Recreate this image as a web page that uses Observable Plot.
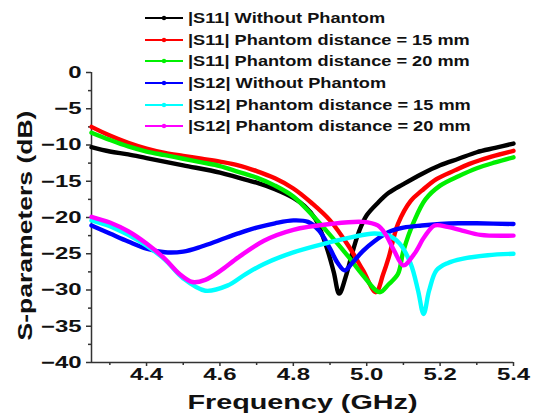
<!DOCTYPE html>
<html><head><meta charset="utf-8">
<script src="https://cdn.jsdelivr.net/npm/d3@7"></script>
<script src="https://cdn.jsdelivr.net/npm/@observablehq/plot@0.6"></script>
<style>
body{margin:0;background:#fff;}
#wrap{position:relative;width:533px;height:414px;font-family:"Liberation Sans",Arial,sans-serif;}
#legend{position:absolute;left:0;top:0;width:533px;height:140px;pointer-events:none;}
.row{position:absolute;left:145px;height:20px;display:flex;align-items:center;white-space:nowrap;}
.row svg{display:block;}
.row span{display:inline-block;font-weight:bold;font-size:14px;color:#111;transform:scaleX(1.3);transform-origin:left center;margin-left:5px;}
</style></head>
<body><div id="wrap"><div id="legend"></div></div>
<script>
// Series names, colours (legend order)
const seriesNames = ["|S11| Without Phantom","|S11| Phantom distance = 15 mm","|S11| Phantom distance = 20 mm","|S12| Without Phantom","|S12| Phantom distance = 15 mm","|S12| Phantom distance = 20 mm"];
const seriesColors = ["#000000","#ff0000","#00f000","#0000ff","#00ffff","#ff00ff"];

// |S11| Without Phantom
const fS11None = [4.25,4.30,4.35,4.40,4.50,4.60,4.65,4.70,4.75,4.80,4.83,4.86,4.89,4.91,4.925,4.945,4.96,4.98,5.00,5.03,5.06,5.10,5.15,5.20,5.25,5.30,5.35,5.40];
const dbS11None = [-10.3,-10.9,-11.3,-11.8,-12.8,-13.8,-14.5,-15.2,-16.1,-17.3,-18.4,-20.2,-24.0,-27.5,-30.5,-27.8,-25.0,-21.8,-19.7,-18.0,-16.6,-15.4,-14.0,-12.8,-11.9,-11.0,-10.4,-9.8];
// |S11| Phantom distance = 15 mm
const fS11d15 = [4.25,4.30,4.35,4.40,4.45,4.50,4.55,4.60,4.65,4.70,4.75,4.80,4.85,4.90,4.95,4.99,5.025,5.045,5.06,5.085,5.12,5.15,5.19,5.24,5.28,5.34,5.40];
const dbS11d15 = [-7.5,-8.7,-9.7,-10.5,-11.1,-11.5,-11.9,-12.3,-12.8,-13.6,-14.6,-16.0,-18.0,-20.4,-23.9,-27.3,-30.3,-27.8,-25.5,-20.9,-17.7,-16.3,-14.7,-13.5,-12.6,-11.6,-10.8];
// |S11| Phantom distance = 20 mm
const fS11d20 = [4.25,4.30,4.35,4.40,4.45,4.50,4.55,4.60,4.65,4.70,4.75,4.80,4.85,4.90,4.95,4.99,5.035,5.06,5.085,5.10,5.13,5.16,5.20,5.25,5.30,5.35,5.40];
const dbS11d20 = [-8.3,-9.3,-10.2,-10.9,-11.4,-11.9,-12.4,-12.9,-13.7,-14.5,-15.6,-17.1,-19.6,-22.4,-25.4,-28.0,-30.3,-29.2,-27.8,-24.6,-20.4,-17.5,-15.6,-14.3,-13.2,-12.4,-11.7];
// |S12| Without Phantom
const fS12None = [4.25,4.30,4.35,4.40,4.45,4.50,4.55,4.60,4.65,4.70,4.75,4.80,4.84,4.87,4.90,4.92,4.94,4.96,4.99,5.02,5.06,5.10,5.15,5.20,5.25,5.30,5.40];
const dbS12None = [-21.1,-22.2,-23.3,-24.3,-24.8,-24.7,-24.0,-23.1,-22.2,-21.4,-20.8,-20.4,-20.6,-21.8,-24.3,-26.2,-27.3,-26.3,-24.6,-23.3,-22.0,-21.4,-21.1,-20.9,-20.8,-20.8,-20.9];
// |S12| Phantom distance = 15 mm
const fS12d15 = [4.25,4.30,4.35,4.40,4.45,4.50,4.56,4.62,4.67,4.72,4.80,4.90,4.96,5.02,5.06,5.09,5.12,5.14,5.155,5.17,5.19,5.22,5.26,5.33,5.40];
const dbS12d15 = [-20.4,-21.2,-22.4,-23.9,-25.8,-28.4,-30.1,-29.4,-27.8,-26.4,-24.8,-23.4,-22.7,-22.2,-22.5,-23.6,-26.4,-30.1,-33.3,-30.1,-27.3,-26.3,-25.7,-25.2,-25.0];
// |S12| Phantom distance = 20 mm
const fS12d20 = [4.25,4.30,4.35,4.40,4.45,4.49,4.525,4.56,4.60,4.65,4.72,4.80,4.90,4.99,5.03,5.05,5.075,5.10,5.13,5.157,5.185,5.22,5.26,5.31,5.40];
const dbS12d20 = [-19.9,-20.7,-21.9,-23.6,-25.7,-27.8,-28.9,-28.6,-27.4,-25.5,-23.2,-21.7,-20.9,-20.6,-21.1,-22.2,-24.6,-26.6,-25.0,-22.7,-21.1,-21.3,-21.8,-22.4,-22.5];

// Axis ticks
const xTicks = [4.4,4.6,4.8,5.0,5.2,5.4];
const xMinorTicks = [4.3,4.5,4.7,4.9,5.1,5.3];
const yTicks = [0,-5,-10,-15,-20,-25,-30,-35,-40];
const yMinorTicks = [-2.5,-7.5,-12.5,-17.5,-22.5,-27.5,-32.5,-37.5];
const xTitle = "Frequency (GHz)";
const yTitle = "S-parameters (dB)";

const freqs = [fS11None,fS11d15,fS11d20,fS12None,fS12d15,fS12d20];
const dbs = [dbS11None,dbS11d15,dbS11d20,dbS12None,dbS12d15,dbS12d20];
const rows = [];
seriesNames.forEach((name,k)=>freqs[k].forEach((f,i)=>rows.push({series:name,freq:f,db:dbs[k][i]})));

const fmtY = d => d < 0 ? "\u2212" + Math.abs(d) : String(d);

const chart = Plot.plot({
  width:533, height:414,
  marginLeft:91, marginRight:20, marginTop:72, marginBottom:52,
  x:{domain:[4.25,5.4]},
  y:{domain:[-40,0]},
  color:{domain:seriesNames, range:seriesColors},
  style:{fontFamily:'"Liberation Sans",Arial,sans-serif', color:"#333", background:"#fff", overflow:"visible"},
  marks:[
    Plot.axisX(xTicks,{tickSize:4,tickPadding:2,tickFormat:d=>d.toFixed(1),label:null,fontWeight:"bold",fontSize:16.5,fill:"#111",strokeWidth:1.5}),
    Plot.axisX(xMinorTicks,{tickSize:3,tickFormat:()=>"",label:null,strokeWidth:1.5}),
    Plot.axisY(yTicks,{tickSize:5,tickPadding:5,tickFormat:fmtY,label:null,fontWeight:"bold",fontSize:16.5,fill:"#111",strokeWidth:1.5}),
    Plot.axisY(yMinorTicks,{tickSize:3,tickFormat:()=>"",label:null,strokeWidth:1.5}),
    Plot.ruleX([4.25],{stroke:"#333",strokeWidth:1.5}),
    Plot.ruleY([-40],{stroke:"#333",strokeWidth:1.5}),
    Plot.line(rows,{x:"freq",y:"db",z:"series",stroke:"series",strokeWidth:4.4,curve:"catmull-rom"}),
    Plot.text([yTitle],{text:d=>d,frameAnchor:"left",textAnchor:"middle",lineAnchor:"middle",rotate:-90,dx:-66,dy:8,fontSize:20,fontWeight:"bold",fill:"#111"}),
    Plot.text([xTitle],{text:d=>d,frameAnchor:"bottom",textAnchor:"middle",dy:46,fontSize:20,fontWeight:"bold",fill:"#111"})
  ]
});
const wrap = document.getElementById("wrap");
wrap.insertBefore(chart, wrap.firstChild);

// stretch text horizontally like the reference's wide bold lettering
d3.select(chart).selectAll("text").each(function(){
  if(!this.textContent){ this.remove(); return; }
  const t = this.textContent;
  const len = this.getComputedTextLength();
  const tr = this.getAttribute("transform") || "";
  if(t===yTitle && tr.includes("rotate")){
    this.setAttribute("transform", tr + " scale(" + (230/len) + ",1)");
    return;
  }
  const target = (t===xTitle) ? 230 : len*1.45;
  this.setAttribute("textLength", target);
  this.setAttribute("lengthAdjust","spacingAndGlyphs");
});

// legend
const legendTops = [18,40,61,83,105,126];
const legend = d3.select("#legend");
seriesNames.forEach((name,i)=>{
  const row = legend.append("div").attr("class","row").style("top",(legendTops[i]-10)+"px");
  const s = row.append("svg").attr("width",38).attr("height",10);
  s.append("line").attr("x1",0).attr("x2",38).attr("y1",5).attr("y2",5).attr("stroke",seriesColors[i]).attr("stroke-width",2.2);
  s.append("circle").attr("cx",19).attr("cy",5).attr("r",2.2).attr("fill",seriesColors[i]);
  row.append("span").text(name);
});
</script>
</body></html>
